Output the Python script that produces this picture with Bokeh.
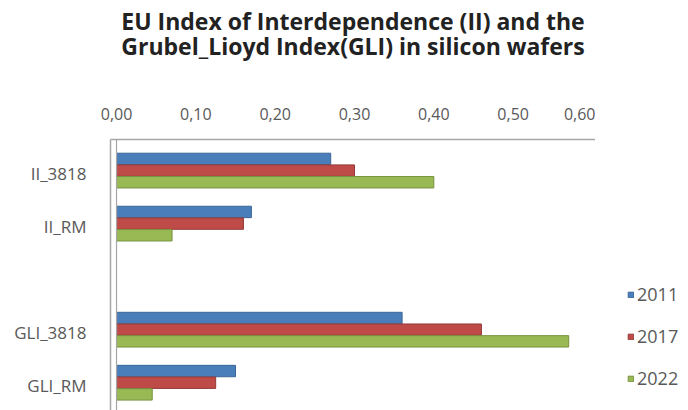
from bokeh.plotting import figure
from bokeh.layouts import row
from bokeh.models import (Range1d, FixedTicker, Legend, LegendItem, Span, Title,
                          ColumnDataSource, CustomJSTickFormatter)
from bokeh.embed import file_html
from bokeh.resources import INLINE

# Categories (the empty one separates the II group from the GLI group)
categories = ["II_3818", "II_RM", "", "GLI_3818", "GLI_RM"]
years = ["2011", "2017", "2022"]
values_2011 = [0.27, 0.17, None, 0.36, 0.15]
values_2017 = [0.30, 0.16, None, 0.46, 0.125]
values_2022 = [0.40, 0.07, None, 0.57, 0.045]
x_ticks = [0.0, 0.1, 0.2, 0.3, 0.4, 0.5, 0.6]
title_lines = ["EU Index of Interdependence (II) and the",
               "Grubel_Lioyd Index(GLI) in silicon wafers"]

series = [values_2011, values_2017, values_2022]
fills = ["#4A7EBB", "#BE4B48", "#98B954"]
edges = ["#3A6696", "#943B39", "#77923F"]
offsets = [-0.274, -0.054, 0.166]
bar_h = 0.215

FONT = "Open Sans"
GREY_TXT = "#595959"
AXIS_GREY = "#A6A6A6"

p = figure(width=595, height=410,
           x_range=Range1d(-0.0076, 0.6038), y_range=Range1d(4.47, -0.64),
           x_axis_location="above", toolbar_location=None, output_backend="svg",
           min_border_left=110, min_border_right=0, min_border_bottom=0,
           min_border_top=138, outline_line_color=None)

for vals, fc, ec, off in zip(series, fills, edges, offsets):
    ys, xs = [], []
    for i, v in enumerate(vals):
        if v is None:
            continue
        ys.append(i + off)
        xs.append(v)
    src = ColumnDataSource(dict(y=ys, right=xs))
    p.hbar(y="y", left=0, right="right", height=bar_h, source=src,
           fill_color=fc, line_color=ec, line_width=1)

p.xgrid.visible = False
p.ygrid.visible = False

# value axis on top
xa = p.xaxis[0]
xa.ticker = FixedTicker(ticks=x_ticks)
xa.formatter = CustomJSTickFormatter(code="return tick.toFixed(2).replace('.', ',');")
xa.major_tick_line_color = None
xa.minor_tick_line_color = None
xa.axis_line_color = AXIS_GREY
xa.axis_line_width = 1.5
xa.major_label_standoff = 14
xa.major_label_text_font = FONT
xa.major_label_text_font_size = "16px"
xa.major_label_text_color = GREY_TXT

# category axis
ya = p.yaxis[0]
ya.ticker = FixedTicker(ticks=[i for i, c in enumerate(categories) if c])
ya.major_label_overrides = {i: c for i, c in enumerate(categories) if c}
ya.major_tick_line_color = None
ya.minor_tick_line_color = None
ya.axis_line_color = AXIS_GREY
ya.axis_line_width = 1.5
ya.major_label_standoff = 18
ya.major_label_text_font = FONT
ya.major_label_text_font_size = "17px"
ya.major_label_text_color = GREY_TXT

# inner wall line at zero
p.add_layout(Span(location=0, dimension="height", line_color=AXIS_GREY, line_width=1.2))

# blank spacer between the value axis and the two-line title
p.add_layout(Title(text=" ", text_font_size="10px", standoff=27), "above")
title = Title(text="\n".join(title_lines), align="center", text_font=FONT,
              text_font_size="23px", text_font_style="bold", text_color="#222222",
              text_line_height=0.8, standoff=4)
p.add_layout(title, "above")

# narrow side panel holding the series legend
lg = figure(width=93, height=410, toolbar_location=None, output_backend="svg",
            x_range=Range1d(0, 1), y_range=Range1d(0, 1),
            min_border=0, outline_line_color=None)
lg.axis.visible = False
lg.grid.visible = False
items = []
for yr, fc, ec in zip(years, fills, edges):
    # one swatch bar kept outside the visible range; only its legend entry shows
    r = lg.hbar(y=[-10], left=[0], right=[1], height=0.1, fill_color=fc, line_color=ec)
    items.append(LegendItem(label=yr, renderers=[r]))
legend = Legend(items=items, location=(32, 20), glyph_width=7, glyph_height=7,
                label_standoff=3, spacing=18, padding=0, margin=0, label_height=20,
                border_line_color=None, background_fill_alpha=0,
                label_text_font=FONT, label_text_font_size="18px",
                label_text_color=GREY_TXT)
lg.add_layout(legend, "center")

layout = row(p, lg, spacing=0)
open("out.html", "w").write(file_html(layout, INLINE))
